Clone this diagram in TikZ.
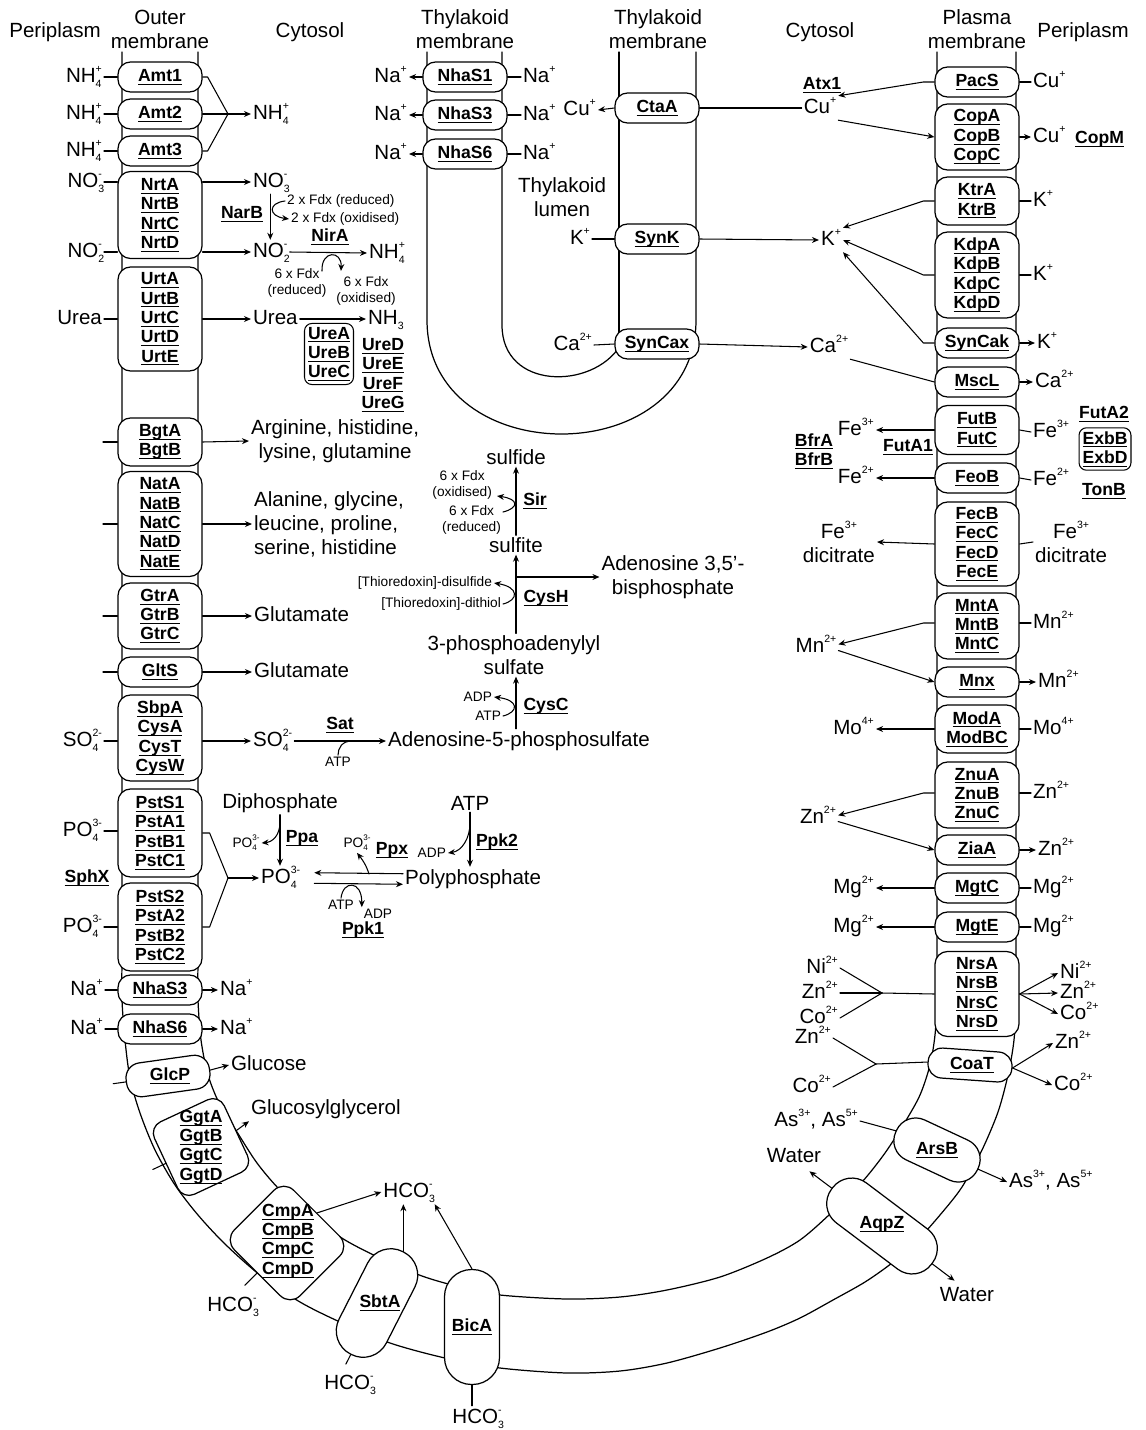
\documentclass[tikz,border=0pt]{standalone}
\usepackage{fontspec}
\setmainfont{Liberation Sans}
\usepackage{tikz}
\usetikzlibrary{arrows.meta,positioning,calc}
\tikzset{
  every picture/.style={line join=round, line cap=round, >={Stealth[length=4pt,width=3.4pt]}},
  memb/.style={line width=0.7pt},
  link/.style={line width=0.6pt},
  pbox/.style={draw, fill=white, line width=0.7pt, rounded corners=0.25cm,
    minimum width=1.68cm, minimum height=#1*0.02cm, inner sep=0pt,
    align=center, font=\fontsize{10}{11}\selectfont\bfseries},
  pbox/.default=30,
  pill/.style={draw, fill=white, line width=0.7pt, inner sep=0pt,
    font=\fontsize{10}{11}\selectfont\bfseries},
  gbox/.style={draw, line width=0.6pt, rounded corners=0.15cm, inner sep=2pt,
    align=center, font=\fontsize{10}{11}\selectfont\bfseries},
  lbl/.style={inner sep=1pt, text height=9pt, text depth=2.5pt,
    font=\fontsize{11.7}{13.6}\selectfont},
  lbls/.style={inner sep=1pt, align=center, font=\fontsize{11.7}{13.6}\selectfont},
  sml/.style={inner sep=1pt, align=center, font=\fontsize{7.8}{8.8}\selectfont},
  enz/.style={inner sep=1pt, align=center, font=\fontsize{10}{11}\selectfont\bfseries},
}
\newcommand{\pn}[1]{\setbox0=\hbox{#1}\rlap{\rule[-1.9pt]{\wd0}{0.55pt}}\box0}
\newcommand{\ion}[2]{\rlap{\raisebox{-2.6pt}{\fontsize{6}{6}\selectfont#1}}\raisebox{5.6pt}{\fontsize{6}{6}\selectfont#2}}
\newcommand{\sion}[2]{\rlap{\raisebox{-1.8pt}{\fontsize{4.6}{5}\selectfont#1}}\raisebox{3.8pt}{\fontsize{4.6}{5}\selectfont#2}}
\newcommand{\chg}[1]{\raisebox{5.6pt}{\fontsize{6}{6}\selectfont#1}}

\begin{document}
\begin{tikzpicture}[x=0.02cm, y=-0.02cm]
\useasboundingbox (0,0) rectangle (1146,1430);

% cell envelope and thylakoids
\draw[memb] (122,52) -- (122,960) -- plot[smooth, tension=0.5] coordinates {(122,960) (122,1000) (125,1040) (130,1078) (140,1113) (155,1150) (175,1185) (198,1215) (225,1244) (260,1275) (300,1302) (340,1322) (390,1343) (445,1358) (500,1368) (567,1373) (620,1371) (667,1363) (720,1348) (767,1332) (800,1318) (833,1300) (865,1282) (892,1263) (915,1243) (940,1215) (962,1187) (982,1150) (998,1112) (1008,1075) (1014,1040) (1016,1000) (1016,960)} -- (1016,52);
\draw[memb] (198,52) -- (198,960) -- plot[smooth, tension=0.5] coordinates {(198,960) (198,1000) (201,1040) (208,1075) (220,1105) (237,1132) (257,1163) (280,1190) (310,1216) (345,1240) (380,1258) (422,1276) (460,1287) (500,1295) (567,1299) (620,1297) (667,1290) (720,1277) (767,1258) (800,1240) (830,1214) (862,1182) (885,1153) (905,1122) (920,1095) (930,1065) (935,1035) (937,1000) (937,960)} -- (937,52);
\draw[memb] (427,52) -- (427,320) .. controls (427,472) and (696,472) .. (696,320) -- (696,52);
\draw[memb] (502,52) -- (502,325) .. controls (502,390) and (592,390) .. (620,346);
\draw[memb] (619,52) -- (619,340);

% headings
\node[lbls] (hperil) at (55,32) {Periplasm};
\node[lbls] (houter) at (160,29) {Outer\\membrane};
\node[lbls] (hcytl) at (310,32) {Cytosol};
\node[lbls] (hthyl) at (465,29) {Thylakoid\\membrane};
\node[lbls] (hthyr) at (658,29) {Thylakoid\\membrane};
\node[lbls] (hcytr) at (820,32) {Cytosol};
\node[lbls] (hplasma) at (977,29) {Plasma\\membrane};
\node[lbls] (hperir) at (1083,32) {Periplasm};
\node[lbls] (lumen) at (562,197) {Thylakoid\\lumen};

% outer membrane transporters
\node[pbox] (amt1) at (160,77) {\pn{Amt1}};
\node[pbox] (amt2) at (160,114) {\pn{Amt2}};
\node[pbox] (amt3) at (160,151) {\pn{Amt3}};
\node[pbox=87] (nrt) at (160,215) {\pn{NrtA}\\\pn{NrtB}\\\pn{NrtC}\\\pn{NrtD}};
\node[pbox=104] (urt) at (160,319) {\pn{UrtA}\\\pn{UrtB}\\\pn{UrtC}\\\pn{UrtD}\\\pn{UrtE}};
\node[pbox=48] (bgt) at (160,442) {\pn{BgtA}\\\pn{BgtB}};
\node[pbox=105] (nat) at (160,524) {\pn{NatA}\\\pn{NatB}\\\pn{NatC}\\\pn{NatD}\\\pn{NatE}};
\node[pbox=66] (gtr) at (160,616) {\pn{GtrA}\\\pn{GtrB}\\\pn{GtrC}};
\node[pbox] (glts) at (160,672) {\pn{GltS}};
\node[pbox=86] (cys) at (160,738) {\pn{SbpA}\\\pn{CysA}\\\pn{CysT}\\\pn{CysW}};
\node[pbox=88] (pst1) at (160,833) {\pn{PstS1}\\\pn{PstA1}\\\pn{PstB1}\\\pn{PstC1}};
\node[pbox=88] (pst2) at (160,927) {\pn{PstS2}\\\pn{PstA2}\\\pn{PstB2}\\\pn{PstC2}};
\node[pbox] (nhas3c) at (160,990) {\pn{NhaS3}};
\node[pbox] (nhas6c) at (160,1029) {\pn{NhaS6}};
\node[pill, rotate=8, minimum width=1.68cm, minimum height=0.68cm, rounded corners=0.3cm] (glcp) at (168,1076) {};
\node[enz] (glcpt) at (170,1076) {\pn{GlcP}};
\node[pill, rotate=25, minimum width=1.54cm, minimum height=1.6cm, rounded corners=0.25cm] (ggt) at (201,1147) {};
\node[enz] (ggtt) at (201,1147) {\pn{GgtA}\\\pn{GgtB}\\\pn{GgtC}\\\pn{GgtD}};
\node[pill, rotate=45, minimum width=1.68cm, minimum height=1.86cm, rounded corners=0.28cm] (cmp) at (287,1243) {};
\node[enz] (cmpt) at (288,1241) {\pn{CmpA}\\\pn{CmpB}\\\pn{CmpC}\\\pn{CmpD}};
\node[pill, rotate=63, minimum width=2.3cm, minimum height=1.06cm, rounded corners=0.52cm] (sbt) at (377,1303) {};
\node[enz] (sbtt) at (380,1303) {\pn{SbtA}};
\node[pill, minimum width=1.1cm, minimum height=2.3cm, rounded corners=0.54cm] (bica) at (472,1327) {\pn{BicA}};

% thylakoid transporters
\node[pbox] (nhas1) at (465,77) {\pn{NhaS1}};
\node[pbox] (nhas3t) at (465,115) {\pn{NhaS3}};
\node[pbox] (nhas6t) at (465,154) {\pn{NhaS6}};
\node[pbox] (ctaa) at (657,108) {\pn{CtaA}};
\node[pbox] (synk) at (657,239) {\pn{SynK}};
\node[pbox] (syncax) at (657,344) {\pn{SynCax}};

% plasma membrane transporters
\node[pbox] (pacs) at (977,82) {\pn{PacS}};
\node[pbox=66] (cop) at (977,137) {\pn{CopA}\\\pn{CopB}\\\pn{CopC}};
\node[pbox=48] (ktr) at (977,201) {\pn{KtrA}\\\pn{KtrB}};
\node[pbox=86] (kdp) at (977,275) {\pn{KdpA}\\\pn{KdpB}\\\pn{KdpC}\\\pn{KdpD}};
\node[pbox] (syncak) at (977,343) {\pn{SynCak}};
\node[pbox] (mscl) at (977,382) {\pn{MscL}};
\node[pbox=49] (fut) at (977,430) {\pn{FutB}\\\pn{FutC}};
\node[pbox] (feob) at (977,478) {\pn{FeoB}};
\node[pbox=84] (fec) at (977,544) {\pn{FecB}\\\pn{FecC}\\\pn{FecD}\\\pn{FecE}};
\node[pbox=66] (mnt) at (977,626) {\pn{MntA}\\\pn{MntB}\\\pn{MntC}};
\node[pbox] (mnx) at (977,682) {\pn{Mnx}};
\node[pbox=48] (mod) at (977,729) {\pn{ModA}\\\pn{ModBC}};
\node[pbox=66] (znu) at (977,795) {\pn{ZnuA}\\\pn{ZnuB}\\\pn{ZnuC}};
\node[pbox] (ziaa) at (977,850) {\pn{ZiaA}};
\node[pbox] (mgtc) at (977,888) {\pn{MgtC}};
\node[pbox] (mgte) at (977,927) {\pn{MgtE}};
\node[pbox=85] (nrs) at (977,994) {\pn{NrsA}\\\pn{NrsB}\\\pn{NrsC}\\\pn{NrsD}};
\node[pill, rotate=-4, minimum width=1.68cm, minimum height=0.6cm, rounded corners=0.28cm] (coat) at (970,1065) {};
\node[enz] (coatt) at (972,1065) {\pn{CoaT}};
\node[pill, rotate=-25, minimum width=1.8cm, minimum height=0.88cm, rounded corners=0.42cm] (arsb) at (937,1150) {};
\node[enz] (arsbt) at (937,1150) {\pn{ArsB}};
\node[pill, rotate=-37, minimum width=2.5cm, minimum height=1cm, rounded corners=0.48cm] (aqpz) at (882,1226) {};
\node[enz] (aqpzt) at (882,1224) {\pn{AqpZ}};

% left periplasm
\node[lbl, anchor=east] (nh4p1) at (104,77) {NH\ion{4}{+}};
\node[lbl, anchor=east] (nh4p2) at (104,114) {NH\ion{4}{+}};
\node[lbl, anchor=east] (nh4p3) at (104,151) {NH\ion{4}{+}};
\node[lbl, anchor=east] (no3p) at (104,182) {NO\ion{3}{-}};
\node[lbl, anchor=east] (no2p) at (104,252) {NO\ion{2}{-}};
\node[lbl, anchor=east] (ureap) at (104,319) {Urea};
\coordinate (bgtp) at (103,442);
\coordinate (natp) at (103,524);
\coordinate (gtrp) at (103,616);
\coordinate (gltp) at (103,672);
\node[lbl, anchor=east] (so4p) at (104,741) {SO\ion{4}{2-}};
\node[lbl, anchor=east] (po4p1) at (104,831) {PO\ion{4}{3-}};
\node[lbl, anchor=east] (po4p2) at (104,927) {PO\ion{4}{3-}};
\node[enz] (sphx) at (87,878) {\pn{SphX}};
\node[lbl, anchor=east] (nap1) at (105,990) {Na\chg{+}};
\node[lbl, anchor=east] (nap2) at (105,1029) {Na\chg{+}};

% left cytosol
\coordinate (amtj) at (228,114);
\node[lbl, anchor=west] (nh4c) at (251,114) {NH\ion{4}{+}};
\node[lbl, anchor=west] (no3c) at (251,182) {NO\ion{3}{-}};
\node[lbl, anchor=west] (no2c) at (251,252) {NO\ion{2}{-}};
\node[lbl, anchor=west] (nh4n) at (367,253) {NH\ion{4}{+}};
\node[enz] (narb) at (242,214) {\pn{NarB}};
\node[enz] (nira) at (330,237) {\pn{NirA}};
\node[sml, anchor=west] (fdr2) at (285,201) {2 x Fdx (reduced)};
\node[sml, anchor=west] (fdo2) at (289,219) {2 x Fdx (oxidised)};
\node[sml] (fdr6) at (297,283) {6 x Fdx\\(reduced)};
\node[sml] (fdo6) at (366,291) {6 x Fdx\\(oxidised)};
\coordinate (nira1) at (322,271);
\coordinate (nira2) at (341,271);
\node[lbl, anchor=west] (ureac) at (251,319) {Urea};
\node[lbl, anchor=west] (nh3) at (366,319) {NH\raisebox{-2.6pt}{\fontsize{6}{6}\selectfont 3}};
\node[gbox] (ureabc) at (329,354) {\pn{UreA}\\\pn{UreB}\\\pn{UreC}};
\node[enz] (uredg) at (383,375) {\pn{UreD}\\\pn{UreE}\\\pn{UreF}\\\pn{UreG}};
\node[lbls, anchor=west] (argc) at (249,441) {Arginine, histidine,\\lysine, glutamine};
\node[lbls, anchor=west, align=left] (alac) at (252,524) {Alanine, glycine,\\leucine, proline,\\serine, histidine};
\node[lbl, anchor=west] (gluc1) at (252,616) {Glutamate};
\node[lbl, anchor=west] (gluc2) at (252,672) {Glutamate};
\node[lbl, anchor=west] (so4c) at (251,741) {SO\ion{4}{2-}};
\node[lbl, anchor=west] (aps) at (386,741) {Adenosine-5-phosphosulfate};
\node[enz] (sat) at (340,725) {\pn{Sat}};
\node[sml] (atps) at (338,762) {ATP};
\coordinate (satj) at (352,741);

% sulfate assimilation
\node[lbls] (sulfide) at (516,457) {sulfide};
\node[lbls] (sulfite) at (516,545) {sulfite};
\node[lbls] (pap) at (514,655) {3-phosphoadenylyl\\sulfate};
\node[lbls] (bisp) at (673,577) {Adenosine 3,5'-\\bisphosphate};
\node[enz] (sir) at (535,501) {\pn{Sir}};
\node[enz] (cysh) at (546,598) {\pn{CysH}};
\node[enz] (cysc) at (546,706) {\pn{CysC}};
\node[sml, anchor=east] (fdo7) at (494,485) {6 x Fdx\\(oxidised)};
\node[sml, anchor=east] (fdr7) at (503,520) {6 x Fdx\\(reduced)};
\coordinate (sirin) at (503,512);
\coordinate (sirout) at (497,496);
\node[sml, anchor=east] (trxs) at (494,583) {[Thioredoxin]-disulfide};
\node[sml, anchor=east] (trxh) at (503,604) {[Thioredoxin]-dithiol};
\node[sml, anchor=east] (adpc) at (494,697) {ADP};
\node[sml, anchor=east] (atpc) at (503,716) {ATP};

% phosphate
\coordinate (pstj) at (228,878);
\node[lbl, anchor=west] (po4c) at (259,878) {PO\ion{4}{3-}};
\node[lbls] (diph) at (280,803) {Diphosphate};
\node[lbls] (atpp) at (470,803) {ATP};
\node[lbl, anchor=west] (poly) at (403,879) {Polyphosphate};
\node[enz] (ppa) at (302,838) {\pn{Ppa}};
\node[enz] (ppk2) at (497,842) {\pn{Ppk2}};
\node[enz] (ppx) at (392,850) {\pn{Ppx}};
\node[enz] (ppk1) at (363,930) {\pn{Ppk1}};
\node[sml] (po4s1) at (246,843) {PO\sion{4}{3-}};
\node[sml] (po4s2) at (357,843) {PO\sion{4}{3-}};
\node[sml, anchor=east] (adpp2) at (448,853) {ADP};
\node[sml] (atpp1) at (341,905) {ATP};
\node[sml] (adpp1) at (378,914) {ADP};
\coordinate (ppaj) at (280,822);
\coordinate (ppk2j) at (470,823);
\coordinate (ppxj) at (369,874);

% sodium, sugars, bicarbonate
\node[lbl, anchor=west] (nac1) at (218,990) {Na\chg{+}};
\node[lbl, anchor=west] (nac2) at (218,1029) {Na\chg{+}};
\node[lbl, anchor=west] (gluco) at (229,1065) {Glucose};
\node[lbl, anchor=west] (glyc) at (249,1109) {Glucosylglycerol};
\node[lbl] (hcoc) at (408,1192) {HCO\ion{3}{-}};
\node[lbl] (hco1) at (232,1306) {HCO\ion{3}{-}};
\node[lbl] (hco2) at (349,1384) {HCO\ion{3}{-}};
\node[lbl] (hco3) at (477,1418) {HCO\ion{3}{-}};

% thylakoid labels
\node[lbl, anchor=east] (nal1) at (409,77) {Na\chg{+}};
\node[lbl, anchor=east] (nal2) at (409,115) {Na\chg{+}};
\node[lbl, anchor=east] (nal3) at (409,154) {Na\chg{+}};
\node[lbl, anchor=west] (nar1) at (521,77) {Na\chg{+}};
\node[lbl, anchor=west] (nar2) at (521,115) {Na\chg{+}};
\node[lbl, anchor=west] (nar3) at (521,154) {Na\chg{+}};
\node[lbl, anchor=east] (cul) at (598,110) {Cu\chg{+}};
\node[lbl, anchor=east] (kl) at (592,239) {K\chg{+}};
\node[lbl, anchor=east] (cal) at (594,345) {Ca\chg{2+}};

% right cytosol
\node[enz] (atx1) at (822,85) {\pn{Atx1}};
\node[lbl] (cuc) at (820,108) {Cu\chg{+}};
\node[lbl] (kc) at (831,240) {K\chg{+}};
\node[lbl] (cac) at (829,347) {Ca\chg{2+}};
\node[lbl, anchor=east] (fe3c) at (876,430) {Fe\chg{3+}};
\node[lbl, anchor=east] (fe2c) at (876,478) {Fe\chg{2+}};
\node[enz] (futa1) at (908,447) {\pn{FutA1}};
\node[enz] (bfr) at (814,451) {\pn{BfrA}\\\pn{BfrB}};
\node[lbls, anchor=east] (fe3dc) at (877,542) {Fe\chg{3+}\\dicitrate};
\node[lbl] (mnc) at (816,647) {Mn\chg{2+}};
\node[lbl, anchor=east] (moc) at (876,729) {Mo\chg{4+}};
\node[lbl] (znc) at (818,818) {Zn\chg{2+}};
\node[lbl, anchor=east] (mgc1) at (876,888) {Mg\chg{2+}};
\node[lbl, anchor=east] (mgc2) at (876,927) {Mg\chg{2+}};
\node[lbl, anchor=east] (nic) at (840,968) {Ni\chg{2+}};
\node[lbl, anchor=east] (znc2) at (840,993) {Zn\chg{2+}};
\node[lbl, anchor=east] (coc) at (840,1018) {Co\chg{2+}};
\coordinate (nrsj) at (882,993);
\node[lbl, anchor=east] (znc3) at (833,1038) {Zn\chg{2+}};
\node[lbl, anchor=east] (coc3) at (833,1087) {Co\chg{2+}};
\coordinate (coaj) at (876,1064);
\node[lbl, anchor=east] (asc) at (860,1121) {As\chg{3+}, As\chg{5+}};
\node[lbl] (watc) at (794,1157) {Water};

% right periplasm
\node[lbl, anchor=west] (cup1) at (1031,82) {Cu\chg{+}};
\node[lbl, anchor=west] (cup2) at (1031,137) {Cu\chg{+}};
\node[enz, anchor=west] (copm) at (1073,139) {\pn{CopM}};
\node[lbl, anchor=west] (kp1) at (1031,201) {K\chg{+}};
\node[lbl, anchor=west] (kp2) at (1031,275) {K\chg{+}};
\node[lbl, anchor=west] (kp3) at (1035,343) {K\chg{+}};
\node[lbl, anchor=west] (cap) at (1033,382) {Ca\chg{2+}};
\node[lbl, anchor=west] (fe3p) at (1031,432) {Fe\chg{3+}};
\node[lbl, anchor=west] (fe2p) at (1031,480) {Fe\chg{2+}};
\node[enz] (futa2) at (1104,414) {\pn{FutA2}};
\node[gbox] (exb) at (1105,449) {\pn{ExbB}\\\pn{ExbD}};
\node[enz] (tonb) at (1104,491) {\pn{TonB}};
\node[lbls, anchor=west] (fe3dp) at (1033,542) {Fe\chg{3+}\\dicitrate};
\node[lbl, anchor=west] (mnp1) at (1031,623) {Mn\chg{2+}};
\node[lbl, anchor=west] (mnp2) at (1036,682) {Mn\chg{2+}};
\node[lbl, anchor=west] (mop) at (1031,729) {Mo\chg{4+}};
\node[lbl, anchor=west] (znp1) at (1031,793) {Zn\chg{2+}};
\node[lbl, anchor=west] (znp2) at (1036,850) {Zn\chg{2+}};
\node[lbl, anchor=west] (mgp1) at (1031,888) {Mg\chg{2+}};
\node[lbl, anchor=west] (mgp2) at (1031,927) {Mg\chg{2+}};
\node[lbl, anchor=west] (nip) at (1058,973) {Ni\chg{2+}};
\node[lbl, anchor=west] (znp3) at (1058,993) {Zn\chg{2+}};
\node[lbl, anchor=west] (cop3) at (1058,1014) {Co\chg{2+}};
\node[lbl, anchor=west] (znp4) at (1053,1043) {Zn\chg{2+}};
\node[lbl, anchor=west] (cop4) at (1052,1085) {Co\chg{2+}};
\node[lbl, anchor=west] (asp) at (1007,1182) {As\chg{3+}, As\chg{5+}};
\node[lbl] (watp) at (967,1296) {Water};

% left connectors
\draw[link] (nh4p1.east) -- (amt1.west);
\draw[link] (nh4p2.east) -- (amt2.west);
\draw[link] (nh4p3.east) -- (amt3.west);
\draw[link] (amt1.east) -- ++(5,0) -- (amtj);
\draw[link] (amt3.east) -- ++(5,0) -- (amtj);
\draw[link,->] (amt2.east) -- (nh4c.west);
\draw[link] (no3p.east) -- (nrt.west |- no3p.east);
\draw[link] (no2p.east) -- (nrt.west |- no2p.east);
\draw[link,->] (nrt.east |- no3c.west) -- (no3c.west);
\draw[link,->] (nrt.east |- no2c.west) -- (no2c.west);
\draw[link,->] (no3c.south) -- (no3c.south |- no2c.north);
\draw[link,->] (fdr2.west) .. controls (268,203) and (268,216) .. (fdo2.west);
\draw[link,->] (no2c.east) -- (nh4n.west);
\draw[link,->] (nira1) .. controls (321,250) and (342,250) .. (nira2);
\draw[link] (ureap.east) -- (urt.west);
\draw[link,->] (urt.east) -- (ureac.west);
\draw[link,->] (ureac.east) -- (nh3.west);
\draw[link] (bgtp) -- (bgt.west);
\draw[link] (natp) -- (nat.west);
\draw[link] (gtrp) -- (gtr.west);
\draw[link] (gltp) -- (glts.west);
\draw[link,->] (bgt.east) -- (argc.west);
\draw[link,->] (nat.east) -- (alac.west);
\draw[link,->] (gtr.east) -- (gluc1.west);
\draw[link,->] (glts.east) -- (gluc2.west);
\draw[link] (so4p.east) -- (cys.west |- so4p.east);
\draw[link,->] (cys.east |- so4c.west) -- (so4c.west);
\draw[link,->] (so4c.east) -- (aps.west);
\draw[link] (atps.north) .. controls (338,748) and (342,741) .. (satj);

% sulfur chain
\draw[link,->] (sulfite.south |- aps.north) -- (sulfite.south |- pap.south);
\draw[link,->] (sulfite.south |- pap.north) -- (sulfite.south);
\draw[link,->] (sulfite.south |- bisp.west) -- (bisp.west);
\draw[link,->] (sulfite.north) -- (sulfite.north |- sulfide.south);
\draw[link,->] (sirin) .. controls (519,508) and (519,499) .. (sirout);
\draw[link,->] (trxh.east) .. controls (519,600) and (519,587) .. (trxs.east);
\draw[link,->] (atpc.east) .. controls (519,712) and (519,700) .. (adpc.east);

% phosphate connectors
\draw[link] (po4p1.east) -- (pst1.west |- po4p1.east);
\draw[link] (po4p2.east) -- (pst2.west |- po4p2.east);
\draw[link] (pst1.east) -- ++(7,0) -- (pstj);
\draw[link] (pst2.east) -- ++(7,0) -- (pstj);
\draw[link,->] (pstj) -- (po4c.west);
\draw[link,->] (diph.south) -- (diph.south |- po4c.north);
\draw[link,->] (ppaj) .. controls (280,836) and (272,842) .. (po4s1.east);
\draw[link,->] (atpp.south) -- (atpp.south |- poly.north);
\draw[link,->] (ppk2j) .. controls (470,838) and (462,851) .. (adpp2.east);
\draw[link,->] ([yshift=3pt]poly.west) -- ([yshift=3pt,xshift=0.24cm]po4c.east);
\draw[link,->] ([yshift=-3pt,xshift=0.24cm]po4c.east) -- ([yshift=-3pt]poly.west);
\draw[link,->] (ppxj) .. controls (366,864) and (361,858) .. (po4s2.south);
\draw[link,->] (atpp1.north) .. controls (343,880) and (362,880) .. (adpp1.north west);

% sodium, sugars, bicarbonate connectors
\draw[link] (nap1.east) -- (nhas3c.west);
\draw[link] (nap2.east) -- (nhas6c.west);
\draw[link,->] (nhas3c.east) -- (nac1.west);
\draw[link,->] (nhas6c.east) -- (nac2.west);
\draw[link] (glcp.west) -- ($(glcp.west)!-0.15!(glcp.east)$);
\draw[link,->] (glcp.east) -- (gluco.west);
\draw[link] (ggt.west) -- ($(ggt.west)!-0.18!(ggt.east)$);
\draw[link,->] (ggt.east) -- (glyc.south west);
\draw[link,->] (cmp.east) -- (hcoc.west);
\draw[link] (cmp.west) -- ($(cmp.west)!-0.2!(cmp.east)$);
\draw[link,->] (sbt.east) -- (sbt.east |- hcoc.south);
\draw[link] (sbt.west) -- ($(sbt.west)!-0.09!(sbt.east)$);
\draw[link,->] (bica.north) -- (hcoc.south east);
\draw[link] (bica.south) -- (bica.south |- hco3.north);

% thylakoid connectors
\draw[link,->] (nhas1.west) -- (nal1.east);
\draw[link,->] (nhas3t.west) -- (nal2.east);
\draw[link,->] (nhas6t.west) -- (nal3.east);
\draw[link] (nar1.west) -- (nhas1.east);
\draw[link] (nar2.west) -- (nhas3t.east);
\draw[link] (nar3.west) -- (nhas6t.east);
\draw[link,->] (ctaa.west) -- (cul.east);
\draw[link] (ctaa.east) -- (cuc.west);
\draw[link] (kl.east) -- (synk.west);
\draw[link,->] (synk.east) -- (kc.west);
\draw[link] (cal.east) -- (syncax.west);
\draw[link,->] (syncax.east) -- (cac.west);

% plasma membrane connectors
\draw[link,->] (pacs.west) -- ++(-11,0) -- (cuc.north east);
\draw[link,->] (cuc.south east) -- (cop.west);
\draw[link] (pacs.east) -- (cup1.west);
\draw[link,->] (cop.east) -- (cup2.west);
\draw[link,->] (ktr.west) -- ++(-11,0) -- (kc.north east);
\draw[link,->] (kdp.west) -- ++(-11,0) -- (kc.east);
\draw[link,->] (syncak.west) -- ++(-11,0) -- (kc.south east);
\draw[link] (ktr.east) -- (kp1.west);
\draw[link] (kdp.east) -- (kp2.west);
\draw[link,->] (syncak.east) -- (kp3.west);
\draw[link] (cac.south east) -- (mscl.west);
\draw[link,->] (mscl.east) -- (cap.west);
\draw[link,->] (fut.west) -- (fe3c.east);
\draw[link] (fut.east) -- (fe3p.west);
\draw[link,->] (feob.west) -- (fe2c.east);
\draw[link] (feob.east) -- (fe2p.west);
\draw[link,->] (fec.west) -- (fe3dc.east);
\draw[link] (fec.east) -- (fe3dp.west);
\draw[link,->] (mnt.west |- mnp1.west) -- ++(-11,0) -- ([yshift=1.5pt]mnc.east);
\draw[link] (mnt.east |- mnp1.west) -- (mnp1.west);
\draw[link,->] ([yshift=-2pt]mnc.east) -- (mnx.west);
\draw[link,->] (mnx.east) -- (mnp2.west);
\draw[link,->] (mod.west) -- (moc.east);
\draw[link] (mod.east) -- (mop.west);
\draw[link,->] (znu.west |- znp1.west) -- ++(-11,0) -- ([yshift=1.5pt]znc.east);
\draw[link] (znu.east |- znp1.west) -- (znp1.west);
\draw[link,->] ([yshift=-2pt]znc.east) -- (ziaa.west);
\draw[link,->] (ziaa.east) -- (znp2.west);
\draw[link,->] (mgtc.west) -- (mgc1.east);
\draw[link] (mgtc.east) -- (mgp1.west);
\draw[link,->] (mgte.west) -- (mgc2.east);
\draw[link] (mgte.east) -- (mgp2.west);
\draw[link] (nic.east) -- (nrsj);
\draw[link] (znc2.east) -- (nrsj);
\draw[link] (coc.east) -- (nrsj);
\draw[link] (nrsj) -- (nrs.west);
\draw[link,->] (nrs.east) -- (nip.west);
\draw[link,->] (nrs.east) -- (znp3.west);
\draw[link,->] (nrs.east) -- (cop3.west);
\draw[link] (znc3.east) -- (coaj);
\draw[link] (coc3.east) -- (coaj);
\draw[link] (coaj) -- (coat.west);
\draw[link,->] (coat.east) -- (znp4.west);
\draw[link,->] (coat.east) -- (cop4.west);
\draw[link] (asc.east) -- (arsb.west);
\draw[link,->] (arsb.east) -- (asp.west);
\draw[link,->] (aqpz.west) -- ($(aqpz.west)!-0.22!(aqpz.east)$);
\draw[link,->] (aqpz.east) -- ($(aqpz.east)!-0.22!(aqpz.west)$);
\end{tikzpicture}
\end{document}
